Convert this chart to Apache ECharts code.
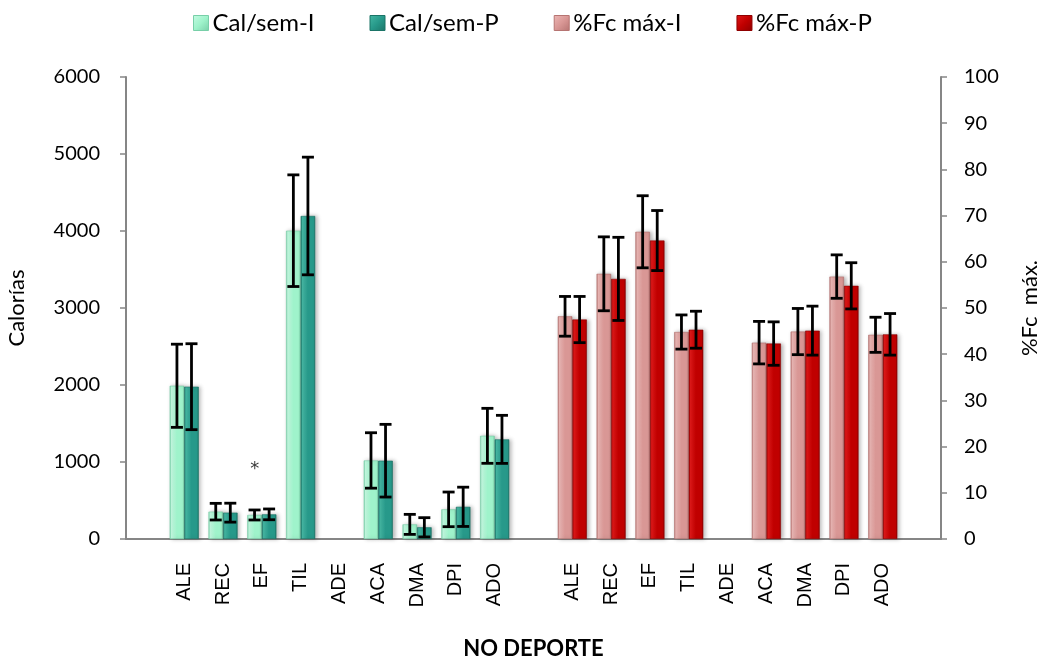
<!DOCTYPE html>
<html>
<head>
<meta charset="utf-8">
<script src="https://cdn.jsdelivr.net/npm/echarts@6/dist/echarts.min.js"></script>
<style>
  html, body { margin: 0; padding: 0; background: #fff; overflow: hidden; }
  #chart { width: 1043px; height: 664px; }
</style>
</head>
<body>
<div id="chart"></div>
<script>
// Activity groups (ADE has no recorded values)
const groups = ['ALE', 'REC', 'EF', 'TIL', 'ADE', 'ACA', 'DMA', 'DPI', 'ADO'];

// Calories per week, initial (I) and post (P): mean and deviation
const calI    = [1990, 355, 312, 4004, null, 1020, 190, 385, 1340];
const calIErr = [ 540, 108,  65,  725, null,  360, 130, 225,  357];
const calP    = [1978, 342, 320, 4195, null, 1017, 152, 418, 1294];
const calPErr = [ 558, 123,  70,  764, null,  472, 125, 255,  312];

// Maximum heart rate percentage, initial (I) and post (P): mean and deviation
const fcI    = [48.2, 57.4, 66.5, 44.8, null, 42.5, 44.9, 56.8, 44.2];
const fcIErr = [ 4.3,  8.0,  7.8,  3.7, null,  4.6,  5.0,  4.7,  3.8];
const fcP    = [47.5, 56.3, 64.6, 45.3, null, 42.3, 45.1, 54.8, 44.3];
const fcPErr = [ 5.0,  9.0,  6.5,  4.0, null,  4.7,  5.3,  5.0,  4.5];

// Significance mark on EF (calories, initial)
const starGroup = 'EF';
const starValue = 900;

const leftTicks = { min: 0, max: 6000, interval: 1000 };
const rightTicks = { min: 0, max: 100, interval: 10 };

// Category layout: blank, first block, blank, second block, blank
const categories = [''].concat(groups, [''], groups, ['']);
const firstStart = 1;
const secondStart = groups.length + 2;

function place(values, start) {
  const out = categories.map(() => '-');
  values.forEach((v, i) => { out[start + i] = v == null ? '-' : v; });
  return out;
}
function errData(values, errs, start) {
  const out = [];
  values.forEach((v, i) => { if (v != null) out.push([start + i, v, errs[i]]); });
  return out;
}

const BAR_GAP = 0.25;

function bevel(light, base, dark) {
  return {
    type: 'linear', x: 0, y: 0, x2: 1, y2: 0,
    colorStops: [
      { offset: 0, color: dark },
      { offset: 0.12, color: light },
      { offset: 0.5, color: base },
      { offset: 0.88, color: base },
      { offset: 1, color: dark }
    ]
  };
}

const colors = {
  calI: { light: '#c4fbe2', base: '#9ff3cb', dark: '#78cfa8' },
  calP: { light: '#45b8a4', base: '#27998a', dark: '#1b7467' },
  fcI:  { light: '#ecb7b5', base: '#d99795', dark: '#b67472' },
  fcP:  { light: '#e01818', base: '#c00000', dark: '#8f0000' }
};

function barSeries(name, data, xIdx, yIdx, c) {
  return {
    name: name, type: 'bar', xAxisIndex: xIdx, yAxisIndex: yIdx,
    data: data, barGap: '0%', barCategoryGap: (BAR_GAP * 100) + '%',
    itemStyle: {
      color: bevel(c.light, c.base, c.dark),
      borderColor: c.dark, borderWidth: 0.6,
      shadowColor: 'rgba(0,0,0,0.28)', shadowBlur: 4, shadowOffsetX: 2, shadowOffsetY: 0
    },
    emphasis: { disabled: true }
  };
}

function errSeries(data, xIdx, yIdx, side) {
  return {
    type: 'custom', xAxisIndex: xIdx, yAxisIndex: yIdx, data: data, z: 5,
    silent: true,
    renderItem: function (params, api) {
      const x = api.value(0), v = api.value(1), e = api.value(2);
      const band = api.size([1, 0])[0];
      const barW = band * (1 - BAR_GAP) / 2;
      const dx = side * barW / 2;
      const top = api.coord([x, v + e]);
      const bot = api.coord([x, v - e]);
      const cx = top[0] + dx;
      const cap = 6;
      const st = { stroke: '#000', lineWidth: 2.8 };
      return {
        type: 'group',
        children: [
          { type: 'line', shape: { x1: cx, y1: top[1], x2: cx, y2: bot[1] }, style: st },
          { type: 'line', shape: { x1: cx - cap, y1: top[1], x2: cx + cap, y2: top[1] }, style: st },
          { type: 'line', shape: { x1: cx - cap, y1: bot[1], x2: cx + cap, y2: bot[1] }, style: st }
        ]
      };
    }
  };
}

function legendItem(name, c) {
  return {
    name: name,
    itemStyle: {
      color: { type: 'linear', x: 0, y: 0, x2: 1, y2: 1,
        colorStops: [{ offset: 0, color: c.light }, { offset: 0.5, color: c.base }, { offset: 1, color: c.dark }] },
      borderColor: c.dark, borderWidth: 1
    }
  };
}

const axisGray = '#868686';
const calibri = 'Lato, "Open Sans", sans-serif';

const chart = echarts.init(document.getElementById('chart'), null, { renderer: 'canvas', width: 1043, height: 664 });

const option = {
  backgroundColor: '#fff',
  animation: false,
  legend: {
    top: 6, left: 188, itemGap: 55, itemWidth: 15, itemHeight: 15,
    icon: 'rect',
    textStyle: { fontFamily: calibri, fontSize: 24, color: '#000', padding: [0, 0, 0, -1] },
    data: [
      legendItem('Cal/sem-I', colors.calI),
      legendItem('Cal/sem-P', colors.calP),
      legendItem('%Fc máx-I', colors.fcI),
      legendItem('%Fc máx-P', colors.fcP)
    ]
  },
  grid: { left: 126, right: 102, top: 77, bottom: 125, containLabel: false, outerBoundsMode: 'none' },
  xAxis: [
    {
      type: 'category', data: categories, position: 'bottom',
      axisLine: { lineStyle: { color: axisGray, width: 2 } },
      axisTick: { show: false },
      axisLabel: {
        rotate: 90, interval: 0, margin: 24,
        fontFamily: '"Liberation Sans", Arial, sans-serif', fontSize: 20, color: '#000'
      },
      name: 'NO DEPORTE', nameLocation: 'middle', nameGap: 99,
      nameTextStyle: { fontFamily: calibri, fontSize: 22, fontWeight: 'bold', color: '#000' }
    },
    {
      type: 'category', data: categories, position: 'bottom', show: false
    }
  ],
  yAxis: [
    {
      type: 'value', position: 'left',
      min: leftTicks.min, max: leftTicks.max, interval: leftTicks.interval,
      axisLine: { show: true, lineStyle: { color: axisGray, width: 2 } },
      axisTick: { show: true, length: 6, lineStyle: { color: axisGray, width: 1.5 } },
      splitLine: { show: false },
      axisLabel: { margin: 26, fontFamily: calibri, fontSize: 20, color: '#000', formatter: v => String(v) },
      name: 'Calorías', nameLocation: 'middle', nameGap: 98, nameRotate: 90,
      nameTextStyle: { fontFamily: calibri, fontSize: 22, color: '#000' }
    },
    {
      type: 'value', position: 'right',
      min: rightTicks.min, max: rightTicks.max, interval: rightTicks.interval,
      axisLine: { show: true, lineStyle: { color: axisGray, width: 2 } },
      axisTick: { show: true, length: 6, lineStyle: { color: axisGray, width: 1.5 } },
      splitLine: { show: false },
      axisLabel: { margin: 23, fontFamily: calibri, fontSize: 20, color: '#000', formatter: v => String(v) },
      name: '%Fc  máx.', nameLocation: 'middle', nameGap: 78, nameRotate: 90,
      nameTextStyle: { fontFamily: calibri, fontSize: 22, color: '#000' }
    }
  ],
  series: [
    barSeries('Cal/sem-I', place(calI, firstStart), 0, 0, colors.calI),
    barSeries('Cal/sem-P', place(calP, firstStart), 0, 0, colors.calP),
    barSeries('%Fc máx-I', place(fcI, secondStart), 1, 1, colors.fcI),
    barSeries('%Fc máx-P', place(fcP, secondStart), 1, 1, colors.fcP),
    errSeries(errData(calI, calIErr, firstStart), 0, 0, -1),
    errSeries(errData(calP, calPErr, firstStart), 0, 0, 1),
    errSeries(errData(fcI, fcIErr, secondStart), 1, 1, -1),
    errSeries(errData(fcP, fcPErr, secondStart), 1, 1, 1),
    {
      type: 'scatter', xAxisIndex: 0, yAxisIndex: 0, symbolSize: 0, silent: true,
      data: [[firstStart + groups.indexOf(starGroup), starValue]],
      label: {
        show: true, position: 'inside', formatter: '*', offset: [-7, 0],
        fontFamily: '"DejaVu Sans", sans-serif', fontSize: 18, color: '#000'
      }
    }
  ]
};

chart.setOption(option);
</script>
</body>
</html>
